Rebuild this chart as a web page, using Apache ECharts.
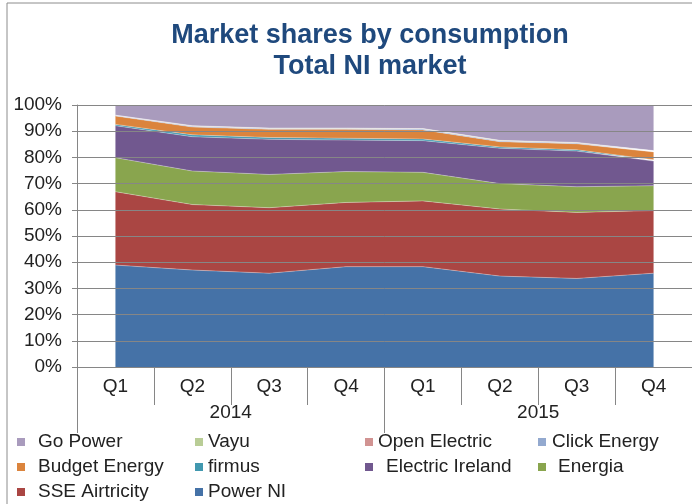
<!DOCTYPE html>
<html>
<head>
    <meta charset="UTF-8">
    <title>Market shares by consumption</title>
    <script src="https://cdn.jsdelivr.net/npm/echarts@6/dist/echarts.min.js"></script>
    <style>
        html, body { margin: 0; padding: 0; background: #fff; }
        #chart { width: 692px; height: 504px; }
    </style>
</head>
<body>
<div id="chart"></div>
<script>
    // quarters and years (two level category axis)
    var quarters = ['Q1', 'Q2', 'Q3', 'Q4', 'Q1', 'Q2', 'Q3', 'Q4'];
    var years = ['2014', '2015'];

    // shares in %
    var powerNI         = [38.9, 37.0, 35.8, 38.3, 38.3, 34.7, 33.8, 35.8];
    var sseAirtricity   = [28.0, 25.0, 25.0, 24.5, 25.1, 25.6, 25.2, 23.9];
    var energia         = [13.0, 12.8, 12.7, 11.8, 10.9,  9.7,  9.8,  9.5];
    var electricIreland = [12.2, 13.1, 13.4, 12.0, 12.1, 13.5, 13.6,  9.4];
    var firmus          = [ 0.5,  0.7,  0.7,  0.7,  0.6,  0.5,  0.5,  0.5];
    var budgetEnergy    = [ 3.2,  3.0,  3.1,  3.4,  3.5,  2.0,  2.3,  3.0];
    var clickEnergy     = [ 0.2,  0.3,  0.3,  0.3,  0.3,  0.3,  0.3,  0.3];
    var openElectric    = [ 0.1,  0.1,  0.1,  0.1,  0.1,  0.1,  0.1,  0.1];
    var vayu            = [ 0.0,  0.1,  0.1,  0.1,  0.1,  0.1,  0.1,  0.1];
    var goPower         = [ 3.9,  7.9,  8.8,  8.8,  9.0, 13.5, 14.3, 17.4];

    var yTicks = [0, 100, 10]; // min, max, step

    // bottom to top of the stack
    var seriesList = [
        {name: 'Power NI', data: powerNI, color: '#4572A7'},
        {name: 'SSE Airtricity', data: sseAirtricity, color: '#AA4643'},
        {name: 'Energia', data: energia, color: '#89A54E'},
        {name: 'Electric Ireland', data: electricIreland, color: '#71588F'},
        {name: 'firmus', data: firmus, color: '#4198AF'},
        {name: 'Budget Energy', data: budgetEnergy, color: '#DB843D'},
        {name: 'Click Energy', data: clickEnergy, color: '#93A9CF'},
        {name: 'Open Electric', data: openElectric, color: '#D19392'},
        {name: 'Vayu', data: vayu, color: '#B9CD96'},
        {name: 'Go Power', data: goPower, color: '#A99BBD'}
    ];

    var font = "'Liberation Sans', Arial, sans-serif";
    var axisGray = '#868686';

    // legend placement: name, marker left, row top, extra gap before text
    var legendLayout = [
        ['Go Power', 17, 432, 8], ['Vayu', 195, 432, 0], ['Open Electric', 365, 432, 0], ['Click Energy', 538, 432, 1],
        ['Budget Energy', 17, 457, 8], ['firmus', 195, 457, 0], ['Electric Ireland', 365, 457, 8], ['Energia', 538, 457, 7],
        ['SSE Airtricity', 17, 482, 8], ['Power NI', 195, 482, 0]
    ];

    var legends = legendLayout.map(function (l) {
        return {
            data: [l[0]],
            left: l[1],
            top: l[2],
            padding: 0,
            icon: 'rect',
            itemWidth: 8,
            itemHeight: 8,
            selectedMode: false,
            textStyle: {
                fontFamily: font, fontSize: 19, color: '#222',
                lineHeight: 20, padding: [0, 0, 0, l[3]]
            }
        };
    });

    var chart = echarts.init(document.getElementById('chart'));

    var option = {
        animation: false,
        backgroundColor: '#fff',
        graphic: [{
            type: 'rect',
            shape: {x: 7, y: 3, width: 720, height: 540},
            style: {fill: 'none', stroke: '#8c8c8c', lineWidth: 1},
            z: -1
        }],
        title: {
            text: 'Market shares by consumption\nTotal NI market',
            left: 365,
            textAlign: 'center',
            top: 15,
            textStyle: {
                fontFamily: font, fontSize: 27, fontWeight: 'bold',
                color: '#1F497D', lineHeight: 31
            }
        },
        legend: legends,
        grid: {left: 77, top: 105, width: 620, height: 262},
        xAxis: [{
            type: 'category',
            data: quarters,
            boundaryGap: true,
            z: 5,
            axisLine: {show: true, lineStyle: {color: axisGray}},
            axisTick: {show: true, alignWithLabel: false, interval: 0, length: 38, lineStyle: {color: axisGray}},
            axisLabel: {
                interval: 0,
                fontFamily: font, fontSize: 19, color: '#222',
                lineHeight: 20, margin: 10
            }
        }, {
            type: 'category',
            data: years,
            position: 'bottom',
            boundaryGap: true,
            z: 5,
            axisLine: {show: false},
            axisTick: {show: true, alignWithLabel: false, interval: 0, length: 66, lineStyle: {color: axisGray}},
            axisLabel: {
                interval: 0,
                fontFamily: font, fontSize: 19, color: '#222',
                lineHeight: 20, margin: 36
            }
        }],
        yAxis: {
            type: 'value',
            min: yTicks[0],
            max: yTicks[1],
            interval: yTicks[2],
            z: 5,
            axisLine: {show: true, lineStyle: {color: axisGray, width: 1}},
            axisTick: {show: true, length: 5, lineStyle: {color: axisGray}},
            splitLine: {show: true, lineStyle: {color: axisGray}},
            axisLabel: {
                formatter: '{value}%',
                fontFamily: font, fontSize: 19, color: '#222', margin: 15
            }
        },
        series: seriesList.map(function (s) {
            return {
                name: s.name,
                type: 'line',
                stack: 'total',
                data: s.data,
                xAxisIndex: 0,
                showSymbol: false,
                symbol: 'none',
                itemStyle: {color: s.color},
                lineStyle: {width: 1, color: 'rgba(255,255,255,0.3)'},
                areaStyle: {color: s.color, opacity: 1}
            };
        })
    };

    chart.setOption(option);
</script>
</body>
</html>
